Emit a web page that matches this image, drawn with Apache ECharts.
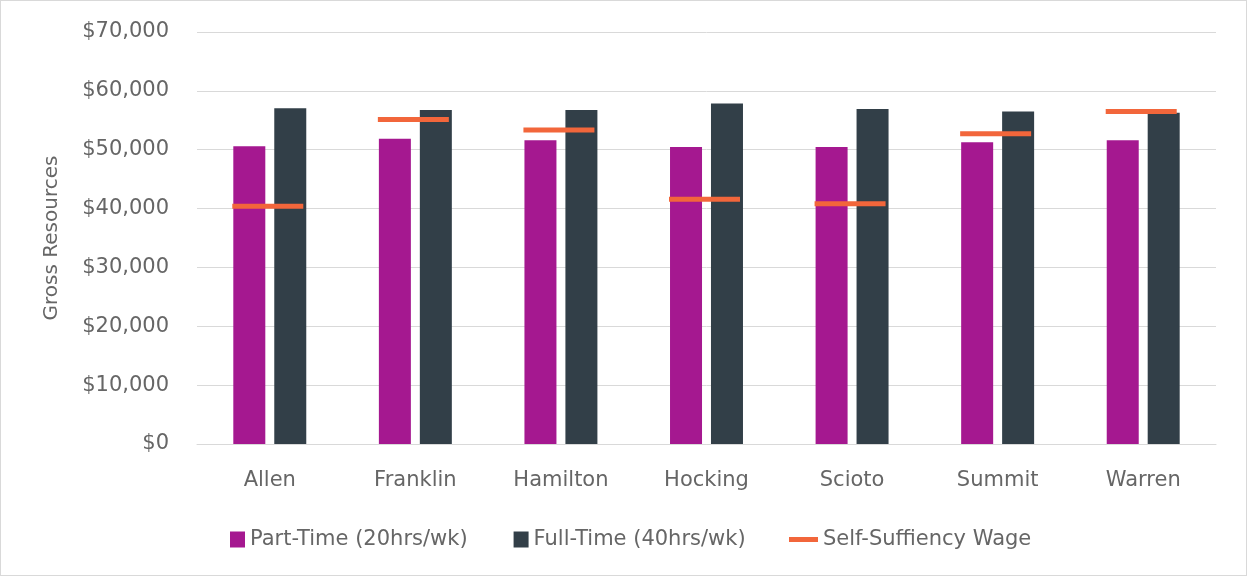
<!DOCTYPE html>
<html>
<head>
<meta charset="utf-8">
<script src="https://cdn.jsdelivr.net/npm/echarts@6/dist/echarts.min.js"></script>
<style>
  html, body { margin: 0; padding: 0; background: #fff; }
  #chart { width: 1245px; height: 574px; border: 1px solid #d9d9d9; }
</style>
</head>
<body>
<div id="chart"></div>
<script>
// 县名
var counties = ['Allen', 'Franklin', 'Hamilton', 'Hocking', 'Scioto', 'Summit', 'Warren']
// 兼职 / 全职 / 自给工资
var partTime = [50600, 51850, 51600, 50450, 50450, 51250, 51600]
var fullTime = [57050, 56750, 56750, 57850, 56900, 56500, 56300]
var selfSufficiency = [40400, 55150, 53350, 41600, 40800, 52700, 56500]

var font = 'DejaVu Sans'
var txtColor = '#666666'
var chart = echarts.init(document.getElementById('chart'))

chart.setOption({
  textStyle: { fontFamily: font },
  grid: { left: 196, right: 30, top: 31, bottom: 131 },
  // 两个图例：柱子用方块，工资线用长条
  legend: [
    {
      top: 523,
      left: 224,
      itemGap: 46,
      itemWidth: 15,
      itemHeight: 16,
      textStyle: { fontSize: 21, color: txtColor, fontFamily: font },
      data: [
        { name: 'Part-Time (20hrs/wk)', icon: 'rect' },
        { name: 'Full-Time (40hrs/wk)', icon: 'rect' }
      ]
    },
    {
      top: 523,
      left: 783,
      itemWidth: 29,
      itemHeight: 5,
      textStyle: { fontSize: 21, color: txtColor, fontFamily: font },
      data: [
        { name: 'Self-Suffiency Wage', icon: 'rect', itemStyle: { color: '#F2663B' } }
      ]
    }
  ],
  xAxis: {
    type: 'category',
    data: counties,
    axisLine: { lineStyle: { color: '#d9d9d9', width: 1 } },
    axisTick: { show: false },
    axisLabel: { color: txtColor, fontSize: 21, margin: 26 }
  },
  yAxis: {
    type: 'value',
    min: 0,
    max: 70000,
    interval: 10000,
    name: 'Gross Resources',
    nameLocation: 'middle',
    nameGap: 135,
    nameTextStyle: { color: txtColor, fontSize: 20 },
    axisLabel: {
      color: txtColor,
      fontSize: 21,
      margin: 28,
      formatter: function (v) { return '$' + v.toLocaleString('en-US') }
    },
    splitLine: { lineStyle: { color: '#d9d9d9', width: 1 } }
  },
  series: [
    {
      name: 'Part-Time (20hrs/wk)',
      type: 'bar',
      data: partTime,
      barWidth: 32,
      barGap: '28%',
      itemStyle: { color: '#A51890' }
    },
    {
      name: 'Full-Time (40hrs/wk)',
      type: 'bar',
      data: fullTime,
      barWidth: 32,
      itemStyle: { color: '#323F48' }
    },
    {
      // 用扁平矩形当作横线
      name: 'Self-Suffiency Wage',
      type: 'scatter',
      data: selfSufficiency,
      symbol: 'rect',
      symbolSize: [71, 5],
      symbolOffset: [-2, 0],
      itemStyle: { color: '#F2663B', opacity: 1 },
      z: 5
    }
  ]
})
</script>
</body>
</html>
